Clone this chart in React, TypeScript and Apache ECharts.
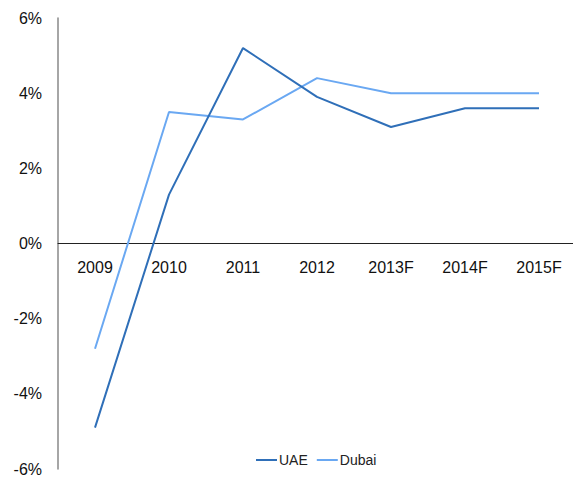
import React, { useEffect, useRef } from "react";
import * as echarts from "echarts";

const categories = ["2009", "2010", "2011", "2012", "2013F", "2014F", "2015F"];
const uae = [-4.9, 1.3, 5.2, 3.9, 3.1, 3.6, 3.6];
const dubai = [-2.8, 3.5, 3.3, 4.4, 4.0, 4.0, 4.0];

export default function App() {
  const ref = useRef<HTMLDivElement>(null);
  useEffect(() => {
    if (!ref.current) return;
    const chart = echarts.init(ref.current, undefined, { renderer: "svg" });
    const font = "Liberation Sans, Arial, sans-serif";
    chart.setOption({
      animation: false,
      backgroundColor: "#ffffff",
      grid: {
        left: 58,
        top: 18,
        width: 518,
        bottom: 8,
        containLabel: false,
        outerBoundsMode: "none",
      },
      legend: {
        bottom: 5,
        left: 251,
        itemWidth: 21,
        itemHeight: 2,
        itemGap: 9,
        icon: "rect",
        textStyle: { fontFamily: font, fontSize: 14, color: "#222", padding: [0, 0, 0, -3] },
        data: ["UAE", "Dubai"],
      },
      xAxis: [
        {
          type: "category",
          data: categories,
          axisLine: { onZero: true, lineStyle: { color: "#222", width: 1 } },
          axisTick: { show: false },
          axisLabel: { show: false },
          z: 1,
        },
        {
          type: "category",
          data: categories,
          position: "bottom",
          offset: -226,
          axisLine: { show: false, onZero: false },
          axisTick: { show: false },
          splitLine: { show: false },
          axisLabel: { fontFamily: font, fontSize: 16, color: "#111", margin: 16 },
        },
      ],
      yAxis: {
        type: "value",
        min: -6,
        max: 6,
        interval: 2,
        axisLine: { show: true, lineStyle: { color: "#888", width: 1.5 } },
        axisTick: { show: false },
        splitLine: { show: false },
        axisLabel: {
          fontFamily: font,
          fontSize: 16,
          color: "#111",
          margin: 16,
          formatter: (v: number) => `${v}%`,
        },
      },
      series: [
        {
          name: "UAE",
          type: "line",
          data: uae,
          symbol: "none",
          lineStyle: { color: "#2F6FB8", width: 2 },
          itemStyle: { color: "#2F6FB8" },
          z: 3,
        },
        {
          name: "Dubai",
          type: "line",
          data: dubai,
          symbol: "none",
          lineStyle: { color: "#6AA8F2", width: 2 },
          itemStyle: { color: "#6AA8F2" },
          z: 2,
        },
      ],
    });
    return () => chart.dispose();
  }, []);
  return (
    <div
      ref={ref}
      style={{ position: "absolute", left: 0, top: 0, width: 573, height: 477 }}
    />
  );
}
